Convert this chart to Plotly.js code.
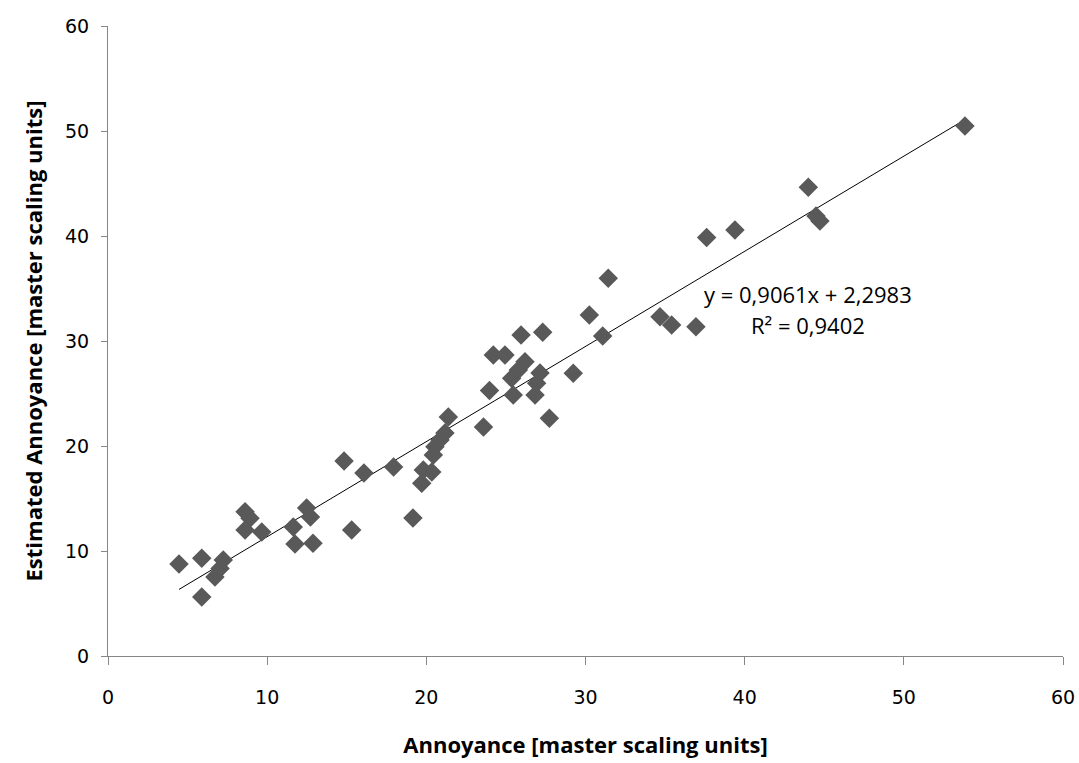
<!DOCTYPE html>
<html>
<head>
<meta charset="utf-8">
<script src="https://cdn.plot.ly/plotly-3.0.1.min.js"></script>
<style>html,body{margin:0;padding:0;background:#fff;}#chart{width:1079px;height:763px;}</style>
</head>
<body>
<div id="chart"></div>
<script>
// Annoyance [master scaling units] (measured)
const annoyance = [4.46, 5.89, 5.89, 6.72, 7.04, 7.24, 8.61, 8.92, 8.61, 9.66,
  11.64, 11.75, 12.48, 12.72, 12.88, 14.83, 15.31, 16.08, 17.94, 19.16,
  19.71, 19.81, 20.34, 20.44, 20.54, 20.86, 21.17, 21.38, 23.59, 23.97,
  24.21, 24.94, 25.36, 25.46, 25.78, 26.20, 25.95, 26.83, 26.93, 27.14,
  27.31, 27.73, 29.23, 30.24, 31.08, 31.43, 34.68, 35.41, 36.94, 37.61,
  39.39, 44.00, 44.48, 44.73, 53.84];
// Estimated Annoyance [master scaling units]
const estimated = [8.76, 9.30, 5.62, 7.52, 8.33, 9.14, 13.74, 13.11, 12.00, 11.81,
  12.29, 10.67, 14.10, 13.24, 10.73, 18.57, 12.00, 17.43, 18.00, 13.14,
  16.45, 17.71, 17.52, 19.14, 19.93, 20.57, 21.24, 22.76, 21.81, 25.29,
  28.67, 28.67, 26.45, 24.86, 27.24, 28.03, 30.57, 24.86, 25.97, 26.95,
  30.83, 22.64, 26.92, 32.48, 30.48, 35.97, 32.32, 31.52, 31.36, 39.86,
  40.57, 44.64, 41.90, 41.43, 50.48];
// Linear trendline as reported on the chart
const slope = [0.9061];
const intercept = [2.2983];
const rSquared = [0.9402];
const xTicks = [0, 10, 20, 30, 40, 50, 60];
const yTicks = [0, 10, 20, 30, 40, 50, 60];

const xMin = Math.min(...annoyance), xMax = Math.max(...annoyance);
const trendX = [xMin, xMax];
const trendY = trendX.map(v => slope[0] * v + intercept[0]);

const fmt = (v, d) => v.toFixed(d).replace('.', ',');

const traces = [
  {
    x: trendX, y: trendY, type: 'scatter', mode: 'lines',
    line: {color: '#000000', width: 1}, hoverinfo: 'skip', showlegend: false
  },
  {
    x: annoyance, y: estimated, type: 'scatter', mode: 'markers',
    marker: {symbol: 'diamond', size: 15, color: '#595959'},
    showlegend: false
  }
];

const tickFont = {family: 'DejaVu Sans, Verdana, sans-serif', size: 19, color: '#000'};
const titleFont = {family: 'Open Sans, sans-serif', size: 22, color: '#000', weight: 'bold'};
const annFont = {family: 'Open Sans, sans-serif', size: 22, color: '#000'};

const layout = {
  width: 1079, height: 763,
  margin: {l: 108, r: 16, t: 26, b: 107},
  paper_bgcolor: '#fff', plot_bgcolor: '#fff',
  showlegend: false,
  xaxis: {
    range: [0, 60], tickvals: xTicks, ticktext: xTicks.map(String),
    showgrid: false, zeroline: false, showline: true, linecolor: '#868686', linewidth: 1,
    ticks: 'outside', ticklen: 8, tickcolor: '#868686', tickwidth: 1,
    tickfont: tickFont, ticklabelstandoff: 16,
    title: {text: 'Annoyance [master scaling units]', font: titleFont, standoff: 30}
  },
  yaxis: {
    range: [0, 60], tickvals: yTicks, ticktext: yTicks.map(String),
    showgrid: false, zeroline: false, showline: true, linecolor: '#868686', linewidth: 1,
    ticks: 'outside', ticklen: 6, tickcolor: '#868686', tickwidth: 1,
    tickfont: tickFont, ticklabelstandoff: 8,
    title: {text: 'Estimated Annoyance [master scaling units]', font: titleFont, standoff: 16}
  },
  annotations: [
    {
      x: 43.98, y: 34.5, xref: 'x', yref: 'y', showarrow: false,
      text: 'y = ' + fmt(slope[0], 4) + 'x + ' + fmt(intercept[0], 4),
      font: annFont, xanchor: 'center'
    },
    {
      x: 43.98, y: 31.5, xref: 'x', yref: 'y', showarrow: false,
      text: 'R² = ' + fmt(rSquared[0], 4),
      font: annFont, xanchor: 'center'
    }
  ]
};

Plotly.newPlot('chart', traces, layout, {displayModeBar: false, staticPlot: true});
</script>
</body>
</html>
